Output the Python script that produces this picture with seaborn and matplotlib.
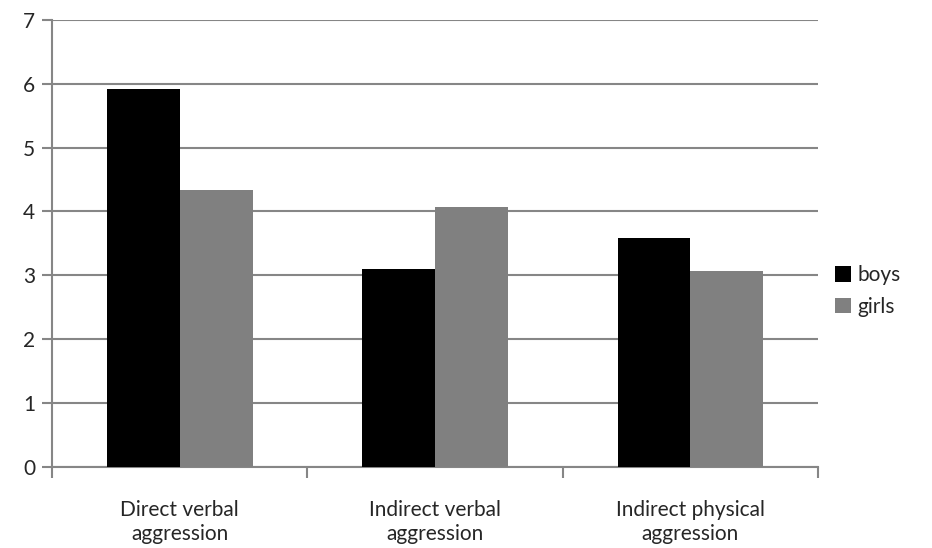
import numpy as np
import pandas as pd
import matplotlib
matplotlib.use("Agg")
import matplotlib.pyplot as plt
import seaborn as sns

# data
categories = ["Direct verbal\naggression", "Indirect verbal\naggression", "Indirect physical\naggression"]
groups = ["boys", "girls"]
boys = [5.92, 3.09, 3.59]
girls = [4.33, 4.07, 3.07]
y_ticks = [0, 1, 2, 3, 4, 5, 6, 7]

df = pd.DataFrame({
    "category": categories * 2,
    "group": ["boys"] * 3 + ["girls"] * 3,
    "value": boys + girls,
})

sns.set_style("white")
plt.rcParams["font.family"] = ["Lato", "DejaVu Sans"]

grid_color = "#868686"

fig = plt.figure(figsize=(9.32, 5.48), dpi=100)
ax = fig.add_axes([0.0558, 0.1485, 0.822, 0.815])

sns.barplot(data=df, x="category", y="value", hue="group", hue_order=groups,
            palette={"boys": "#000000", "girls": "#808080"},
            width=0.571, gap=0, saturation=1, edgecolor="none", ax=ax, zorder=3)

ax.set_ylim(0, 7)
ax.set_xlim(-0.5, 2.5)
ax.set_yticks(y_ticks)
ax.yaxis.grid(True, color=grid_color, linewidth=1.5, zorder=0)
ax.set_axisbelow(True)

for side in ["top", "right"]:
    ax.spines[side].set_visible(False)
for side in ["left", "bottom"]:
    ax.spines[side].set_color(grid_color)
    ax.spines[side].set_linewidth(1.5)

ax.tick_params(axis="y", left=True, length=7, width=1.5, color=grid_color,
               labelsize=15, pad=5)
ax.set_xticks(range(len(categories)))
ax.set_xticklabels(categories, fontsize=15, linespacing=1.25)
ax.set_xticks([-0.5, 0.5, 1.5, 2.5], minor=True)
ax.tick_params(axis="x", which="major", bottom=False, length=0, pad=24)
ax.tick_params(axis="x", which="minor", bottom=True, length=8, width=1.5, color=grid_color)
ax.set_xlabel("")
ax.set_ylabel("")

handles, labels = ax.get_legend_handles_labels()
ax.legend(handles, labels, loc="center left", bbox_to_anchor=(0.998, 0.393),
          frameon=False, fontsize=15, handlelength=0.75, handleheight=0.75,
          handletextpad=0.3, labelspacing=0.55)

fig.savefig("out.png", dpi=100)
